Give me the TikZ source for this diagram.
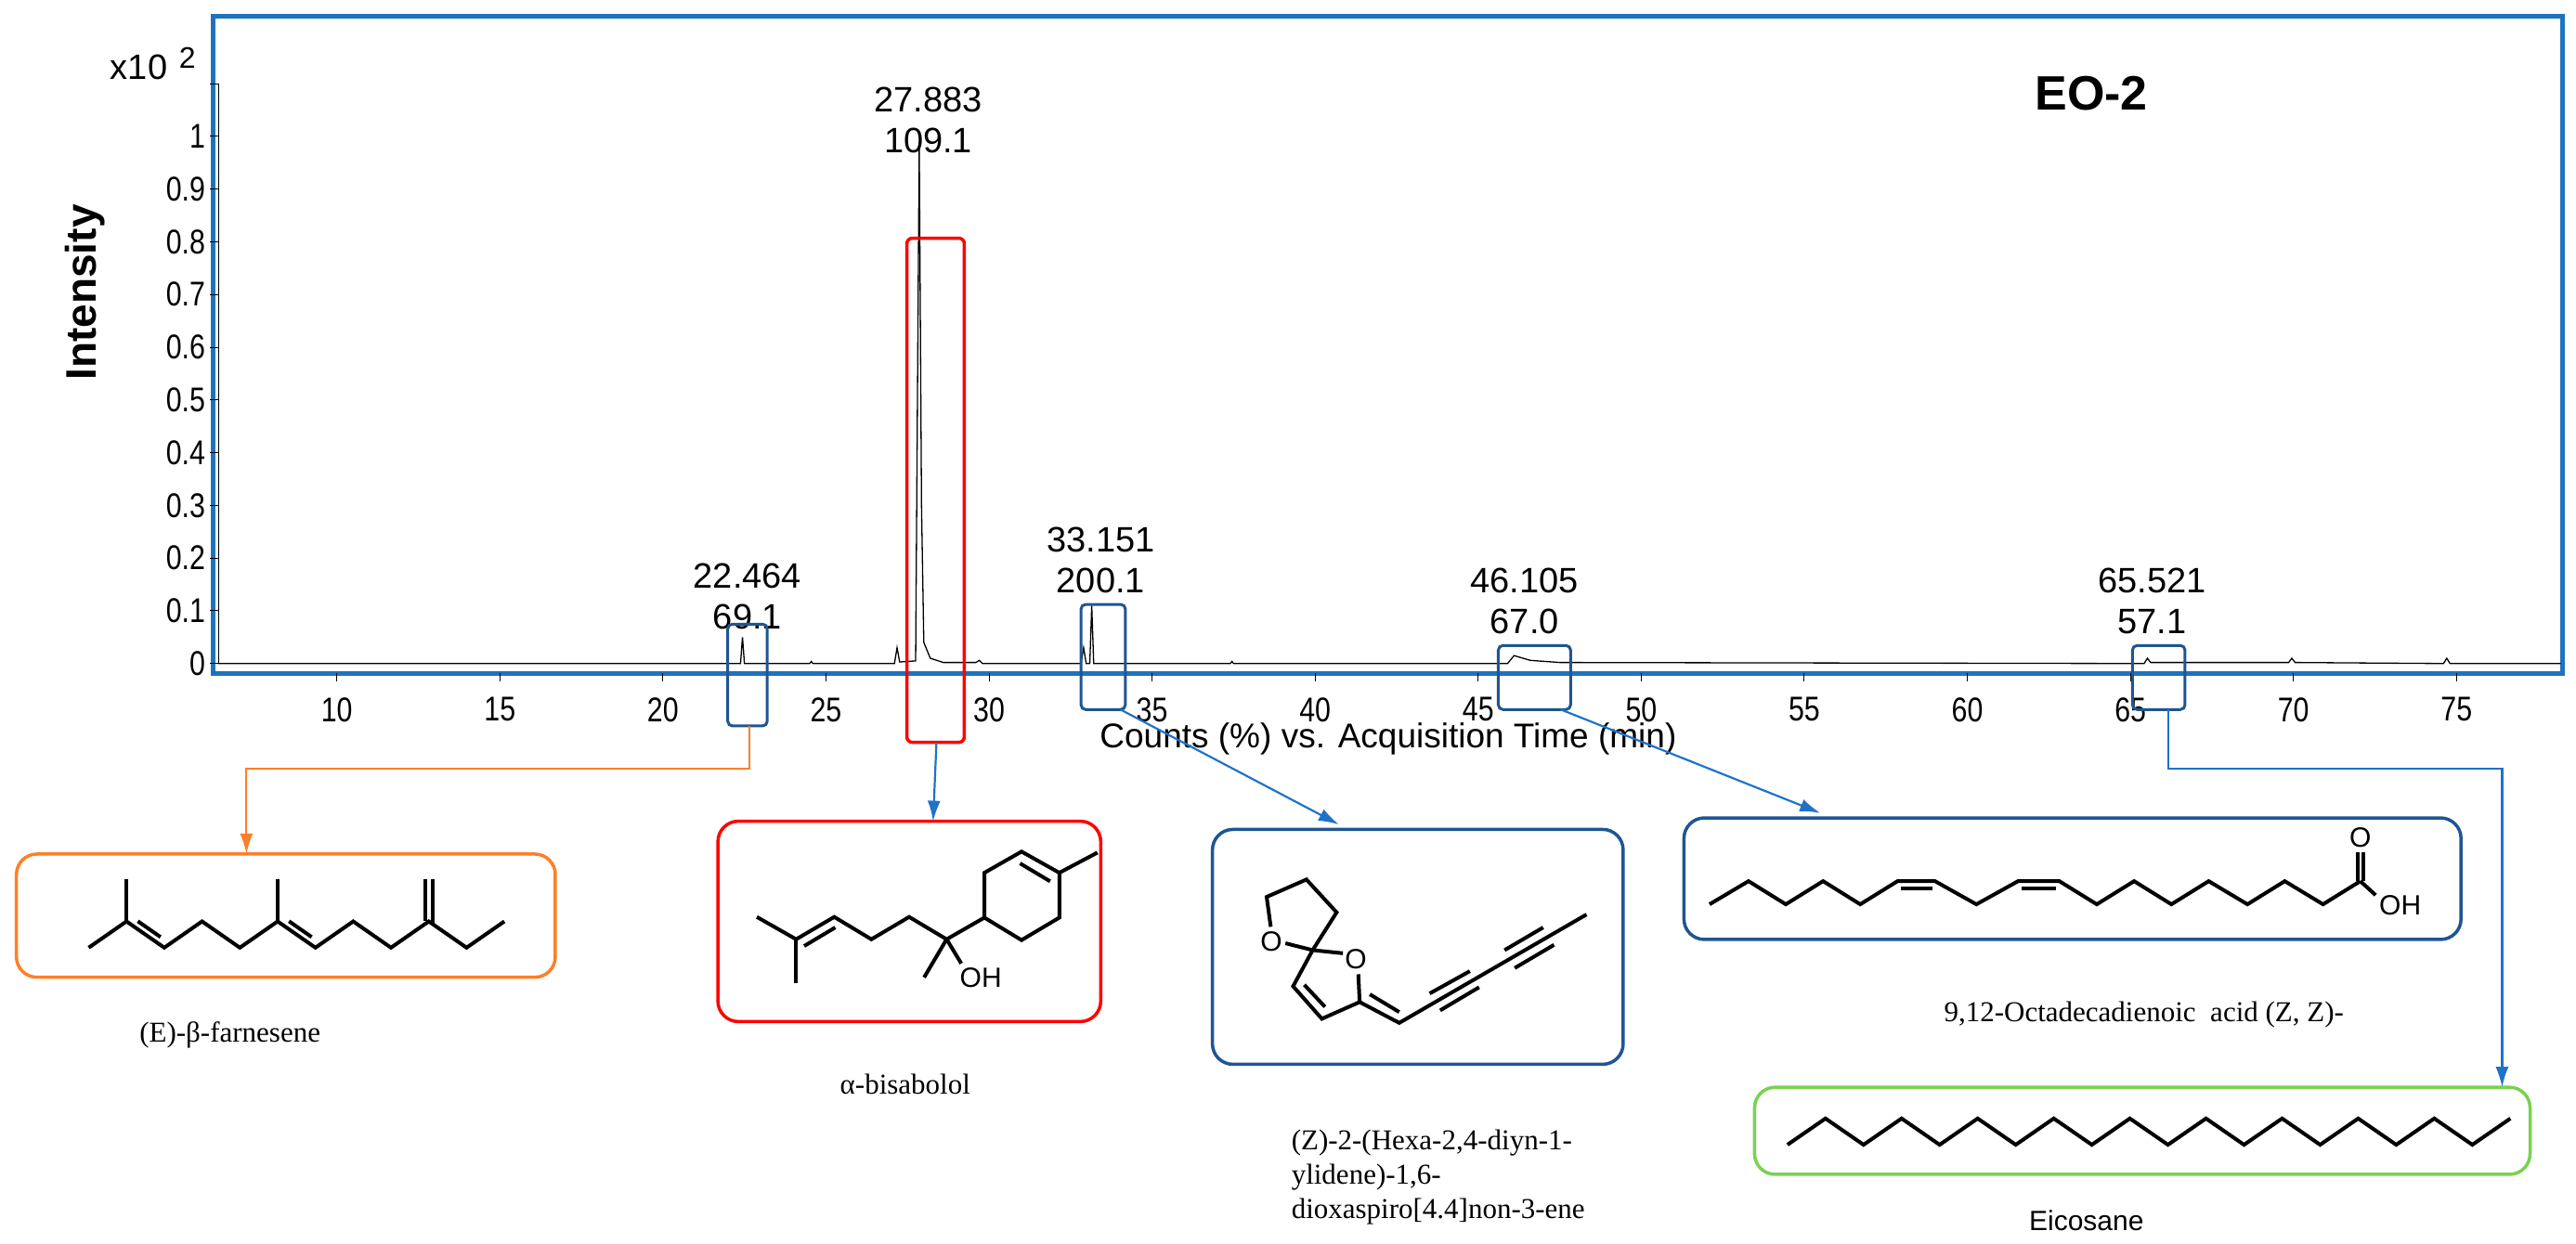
\documentclass[tikz,border=0pt]{standalone}
\usepackage{fontspec}
\setmainfont{Liberation Serif}
\newfontfamily\narrowsans[FakeStretch=0.82]{Liberation Sans}
\newfontfamily\arialf{Liberation Sans}
\usetikzlibrary{arrows.meta}
\definecolor{frameblue}{RGB}{30,115,190}
\definecolor{boxblue}{RGB}{31,85,146}
\definecolor{arrblue}{RGB}{30,115,200}
\definecolor{orng}{RGB}{255,127,39}
\definecolor{grn}{RGB}{120,210,80}
\tikzset{
 tick/.style={font=\narrowsans\fontsize{37}{40}\selectfont, inner sep=0pt},
 pk/.style={font=\arialf\fontsize{38}{44}\selectfont, align=center, inner sep=0pt},
 hl/.style={draw=boxblue, line width=3pt, rounded corners=5pt},
 hlred/.style={draw=red, line width=3.5pt, rounded corners=6pt},
 molbox/.style={line width=3.5pt, rounded corners=22pt},
 bond/.style={line width=4pt, line join=miter, line cap=butt},
 mname/.style={font=\fontsize{31}{37}\selectfont, inner sep=0pt},
 atom/.style={font=\arialf\fontsize{30}{32}\selectfont, inner sep=1pt},
 conn/.style={line width=2.2pt, -{Latex[length=22pt,width=14pt]}},
 trace/.style={line width=1.3pt}
}
\begin{document}
\begin{tikzpicture}[x=1.769pt,y=-1.769pt]
\useasboundingbox (0,0) rectangle (1568,757);
% frame
\draw[frameblue, line width=5pt] (130,10) rectangle (1560,410);
\node[font=\bfseries\arialf\fontsize{52}{56}\selectfont] (eo) at (1273,57) {EO-2};
\node[rotate=90, font=\bfseries\arialf\fontsize{46}{50}\selectfont] (ylab) at (52,178) {Intensity};
\node[font=\arialf\fontsize{38}{40}\selectfont, anchor=east, inner sep=0pt] (x10) at (102,41) {x10};
\node[font=\arialf\fontsize{32}{34}\selectfont, inner sep=0pt] (x10e) at (114,35) {2};
% y ticks
\foreach \v/\l in {0/0,1/0.1,2/0.2,3/0.3,4/0.4,5/0.5,6/0.6,7/0.7,8/0.8,9/0.9,10/1}{
  \draw[line width=1pt] (128,404-32.1*\v) -- (133,404-32.1*\v);
  \node[tick, anchor=east] (yt\v) at (125,404-32.1*\v) {\l};
}
\draw[line width=1pt] (128,51) -- (133,51);
\draw[line width=1.2pt] (133,51) -- (133,404);
% x ticks
\foreach \t in {10,15,...,75}{
  \draw[line width=1pt] (205+19.85*\t-198.5,410) -- (205+19.85*\t-198.5,415);
  \node[tick] (xt\t) at (205+19.85*\t-198.5,432) {\t};
}
\node[font=\arialf\fontsize{37}{40}\selectfont] (xlab) at (845,450) {Counts (\%) vs. Acquisition Time (min)};
% trace
\begin{scope}[shift={(6.5,404)}, x=35.115pt, y=567.85pt]
\draw[trace] (6.37,0) -- (22.38,0) -- (22.44,0.05) -- (22.5,0) -- (24.5,0) -- (24.55,0.004) -- (24.6,0) -- (27.1,0) -- (27.18,0.03) -- (27.26,0.003) -- (27.75,0.005) -- (27.86,0.99) -- (27.93,0.3) -- (28.0,0.04) -- (28.2,0.01) -- (28.6,0.002) -- (29.6,0.002) -- (29.7,0.006) -- (29.8,0) -- (32.82,0) -- (32.9,0.03) -- (32.98,0) -- (33.09,0) -- (33.15,0.11) -- (33.21,0) -- (37.4,0) -- (37.45,0.004) -- (37.5,0) -- (45.9,0) -- (46.1,0.015) -- (46.6,0.006) -- (47.5,0.002) -- (65.42,0) -- (65.52,0.01) -- (65.62,0.002) -- (69.85,0.002) -- (69.95,0.01) -- (70.05,0.002) -- (74.6,0) -- (74.7,0.01) -- (74.8,0) -- (78.2,0);
\end{scope}
% peak labels
\node[pk] (p1) at (455,363) {22.464\\69.1};
\node[pk] (p2) at (565,73) {27.883\\109.1};
\node[pk] (p3) at (670,341) {33.151\\200.1};
\node[pk] (p4) at (928,366) {46.105\\67.0};
\node[pk] (p5) at (1310,366) {65.521\\57.1};
% highlight boxes
\draw[hl] (443,380) rectangle (467,442);
\draw[hlred] (552,145) rectangle (587,452);
\draw[hl] (658,368) rectangle (685,432);
\draw[hl] (912,393) rectangle (956,432);
\draw[hl] (1298,393) rectangle (1330,432);
\coordinate (h1) at (456,442);
\coordinate (h2) at (570,452);
\coordinate (h3) at (682,432);
\coordinate (h4) at (950,432);
\coordinate (h5) at (1320,432);
% molecule boxes
\draw[molbox, draw=orng] (10,520) rectangle (338,595);
\draw[molbox, draw=red] (437,500) rectangle (670,622);
\draw[molbox, draw=boxblue] (738,505) rectangle (988,648);
\draw[molbox, draw=boxblue] (1025,498) rectangle (1498,572);
\draw[molbox, draw=grn] (1068,662) rectangle (1540,715);
\coordinate (b1) at (150,520);
\coordinate (b2) at (568,500);
\coordinate (b3) at (815,502);
\coordinate (b4) at (1108,495);
\coordinate (b5) at (1523,662);
% connectors
\draw[conn, orng] (h1) -- (456,468) -| (b1);
\draw[conn, arrblue] (h2) -- (b2);
\draw[conn, arrblue] (h3) -- (b3);
\draw[conn, arrblue] (h4) -- (b4);
\draw[conn, arrblue] (h5) -- (1320,468) -| (b5);
% names
\node[mname] (n1) at (140,630) {(E)-β-farnesene};
\node[mname] (n2) at (551,660) {α-bisabolol};
\node[mname, align=left, anchor=west] (n3) at (786,717) {(Z)-2-(Hexa-2,4-diyn-1-\\ylidene)-1,6-\\dioxaspiro[4.4]non-3-ene};
\node[mname] (n4) at (1305,618) {9,12-Octadecadienoic\ \ acid (Z, Z)-};
\node[font=\arialf\fontsize{30}{34}\selectfont] (n5) at (1270,743) {Eicosane};
% farnesene
\draw[bond] (54,577)
  \foreach \i in {1,...,11}{ -- ({54+23*\i},{ifthenelse(mod(\i,2)==1,561,577)}) };
\draw[bond] (77,561) -- (77,535);
\draw[bond] (169,561) -- (169,535);
\draw[bond] (258.6,561) -- (258.6,535);
\draw[bond] (263.4,563) -- (263.4,535);
\draw[bond] (83.9,560.9) -- (97.7,570.5);
\draw[bond] (175.9,560.9) -- (189.7,570.5);
% bisabolol
\draw[bond] (460.7,558.3) -- (484.6,571.9) -- (507.8,558.3) -- (530.4,571.9) -- (553.4,558.3) -- (576.2,571.9) -- (599.2,558.7);
\draw[bond] (599.2,558.7) -- (599.2,531.4) -- (621.8,518.5) -- (644.8,531.4) -- (644.8,558.7) -- (621.8,572.4) -- cycle;
\draw[bond] (484.6,571.9) -- (484.6,598.8);
\draw[bond] (576.2,571.9) -- (562.5,595.1);
\draw[bond] (576.2,571.9) -- (585.1,586.6);
\draw[bond] (489.5,576) -- (508.4,564.7);
\draw[bond] (620.9,525.7) -- (639.2,536.6);
\draw[bond] (644.8,531.4) -- (668,519.1);
\node[atom] (oh1) at (597,595.4) {OH};
% spiro
\node[atom] (O1) at (773.9,573.2) {O};
\node[atom] (O2) at (825.3,584.1) {O};
\coordinate (sp) at (799,578.5);
\draw[bond] (782.4,574.3) -- (sp) -- (817.4,580.4);
\draw[bond] (773.5,564.3) -- (771,546.1) -- (795.2,535.5) -- (813.6,555.5) -- (sp) -- (787.1,600.5) -- (804.6,620.3) -- (827.6,610.1) -- (851.7,622.8) -- (965.7,556.8);
\draw[bond] (826.8,593.2) -- (827.6,610.1);
\draw[bond] (793.9,599.6) -- (806.5,613);
\draw[bond] (833.8,605.4) -- (851.7,616.2);
\draw[bond] (870.2,604.9) -- (894.7,591.3);
\draw[bond] (876.6,615.2) -- (900.3,601.1);
\draw[bond] (915.8,578.5) -- (939.3,564.7);
\draw[bond] (922,589.4) -- (945.9,575.3);
% octadecadienoic acid
\draw[bond] (1040.6,550.6) -- (1064.3,536.5) -- (1087,550.6) -- (1109.7,536.5) -- (1132.3,550.6) -- (1155,536.5) -- (1177.8,536.5) -- (1203,550.6) -- (1228.4,536.5) -- (1253.5,536.5) -- (1276.3,550.6) -- (1299,536.5) -- (1321.7,550.6) -- (1344.4,536.5) -- (1368,550.6) -- (1390.7,536.5) -- (1414,550.6) -- (1436.7,536.5);
\draw[bond] (1157,540.8) -- (1176,540.8);
\draw[bond] (1230.4,540.8) -- (1251.5,540.8);
\node[atom] (Oc) at (1436.7,510) {O};
\draw[bond] (1435,536.5) -- (1435,519);
\draw[bond] (1438.6,536.5) -- (1438.6,519);
\node[atom] (oh2) at (1461,551) {OH};
\draw[bond] (1436.7,536.5) -- (1446,545);
% eicosane
\draw[bond] (1088,697)
  \foreach \i in {1,...,19}{ -- ({1088+23.16*\i},{ifthenelse(mod(\i,2)==1,681,697)}) };
\end{tikzpicture}
\end{document}
